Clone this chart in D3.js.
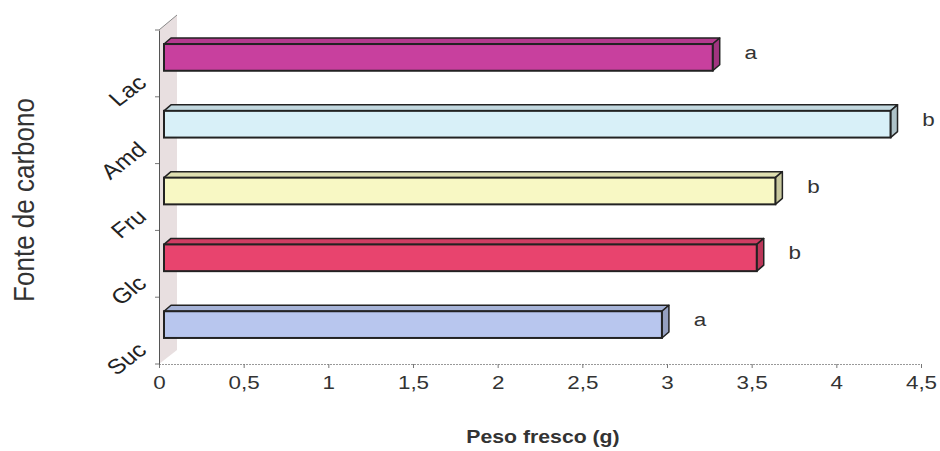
<!DOCTYPE html>
<html>
<head>
<meta charset="utf-8">
<script src="https://cdn.jsdelivr.net/npm/d3@7/dist/d3.min.js"></script>
<style>
  body { margin: 0; background: #fff; }
  svg { font-family: "Liberation Sans", Arial, sans-serif; }
</style>
</head>
<body>
<svg id="chart"></svg>
<script>
var categories = ["Lac", "Amd", "Fru", "Glc", "Suc"];
var values = [3.27, 4.32, 3.64, 3.53, 2.97];
var letters = ["a", "b", "b", "b", "a"];
var colors = ["#c8409e", "#d8f0f8", "#f8f8c4", "#e8446e", "#b8c6ee"];
var xTicks = [0, 0.5, 1, 1.5, 2, 2.5, 3, 3.5, 4, 4.5];

window.onload = function() {
    var width = 940,
	height = 451,
	sx = 1.18; // the scanned figure is a bit wide: text is stretched sideways

    var svg = d3.select("#chart")
	.attr("width", width)
	.attr("height", height);

    var x = d3.scaleLinear().domain([0, 4.5]).range([159, 921]);
    var y = d3.scaleBand().domain(categories).range([30, 364])
	.paddingInner(0.6).paddingOuter(0.3);

    var dx = 7, dy = -6;

    // back wall strip
    svg.append("path")
	.attr("d", "M159,30L177,15L177,350L159,364Z")
	.attr("fill", "#e8dfe0")
	.attr("stroke", "none");
    svg.append("line")
	.attr("x1", 159).attr("y1", 30).attr("x2", 177).attr("y2", 15)
	.attr("stroke", "#888").attr("stroke-width", 1);

    // x axis
    var xAxis = svg.append("g")
	.attr("transform", "translate(0,364)")
	.call(d3.axisBottom(x).tickValues(xTicks).tickSize(4).tickPadding(8)
	      .tickFormat(function(d) { return String(d).replace(".", ","); }));
    xAxis.select(".domain").attr("stroke", "#999").attr("stroke-dasharray", "2,1");
    xAxis.selectAll(".tick line").attr("stroke", "#777");
    xAxis.selectAll("text")
	.attr("font-size", 19).attr("fill", "#333")
	.attr("transform", "scale(" + sx + ",1)");

    // y axis
    var yAxis = svg.append("g")
	.attr("transform", "translate(159,0)")
	.call(d3.axisLeft(y).tickValues([]).tickSizeOuter(0));
    yAxis.select(".domain").attr("stroke", "#555");
    var step = y.step();
    svg.selectAll("line.ytick")
	.data(d3.range(categories.length + 1))
	.enter().append("line")
	.attr("class", "ytick")
	.attr("x1", 155).attr("x2", 159)
	.attr("y1", function(i) { return 30 + i * step; })
	.attr("y2", function(i) { return 30 + i * step; })
	.attr("stroke", "#777");

    // bars
    var bars = svg.selectAll("g.bar")
	.data(categories)
	.enter().append("g")
	.attr("class", "bar");

    function geom(c, i) {
	var y0 = y(c) - 6, h = y.bandwidth();
	return { x0: x(0) + 5, x1: x(values[i]), y0: y0, y1: y0 + h };
    }

    bars.append("path")
	.attr("d", function(c, i) {
	    var g = geom(c, i);
	    return "M" + g.x0 + "," + g.y0 + "L" + (g.x0 + dx) + "," + (g.y0 + dy) +
		"L" + (g.x1 + dx) + "," + (g.y0 + dy) + "L" + g.x1 + "," + g.y0 + "Z";
	})
	.attr("fill", function(c, i) { return d3.color(colors[i]).darker(0.3); })
	.attr("stroke", "#222").attr("stroke-width", 1.5).attr("stroke-linejoin", "round");

    bars.append("path")
	.attr("d", function(c, i) {
	    var g = geom(c, i);
	    return "M" + g.x1 + "," + g.y0 + "L" + (g.x1 + dx) + "," + (g.y0 + dy) +
		"L" + (g.x1 + dx) + "," + (g.y1 + dy) + "L" + g.x1 + "," + g.y1 + "Z";
	})
	.attr("fill", function(c, i) { return d3.color(colors[i]).darker(0.6); })
	.attr("stroke", "#222").attr("stroke-width", 1.5).attr("stroke-linejoin", "round");

    bars.append("rect")
	.attr("x", function(c, i) { return geom(c, i).x0; })
	.attr("y", function(c, i) { return geom(c, i).y0; })
	.attr("width", function(c, i) { var g = geom(c, i); return g.x1 - g.x0; })
	.attr("height", y.bandwidth())
	.attr("fill", function(c, i) { return colors[i]; })
	.attr("stroke", "#222").attr("stroke-width", 2);

    // significance letters
    bars.append("text")
	.attr("transform", function(c, i) {
	    return "translate(" + (x(values[i]) + 38) + "," + (geom(c, i).y0 + 15) + ") scale(" + sx + ",1)";
	})
	.attr("text-anchor", "middle")
	.attr("font-size", 19)
	.attr("fill", "#333")
	.text(function(c, i) { return letters[i]; });

    // category labels, rotated
    svg.selectAll("text.cat")
	.data(categories)
	.enter().append("text")
	.attr("class", "cat")
	.attr("text-anchor", "end")
	.attr("font-size", 21)
	.attr("fill", "#222")
	.attr("transform", function(c) {
	    return "translate(148," + (y(c) + y.bandwidth() + 8) + ") scale(" + sx + ",1) rotate(-42)";
	})
	.text(function(c) { return c; });

    // axis titles
    svg.append("text")
	.attr("transform", "translate(543,443) scale(" + sx + ",1)")
	.attr("text-anchor", "middle")
	.attr("font-size", 18).attr("font-weight", "bold")
	.attr("fill", "#333")
	.text("Peso fresco (g)");

    svg.append("text")
	.attr("transform", "translate(34,200) scale(1.1,1) rotate(-90)")
	.attr("text-anchor", "middle")
	.attr("font-size", 26)
	.attr("fill", "#333")
	.text("Fonte de carbono");
};
</script>
</body>
</html>
